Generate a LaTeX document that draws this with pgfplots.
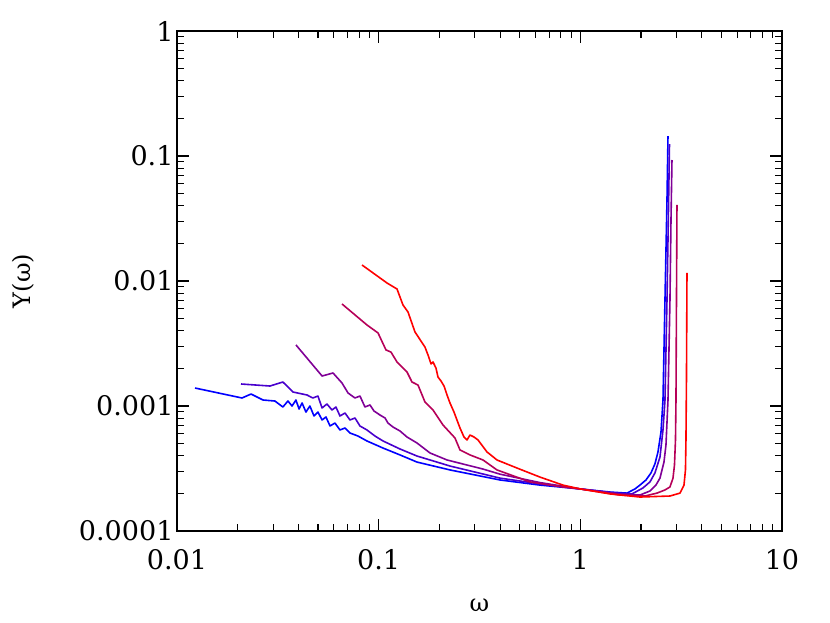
\documentclass[border=0pt]{standalone}
\usepackage{fontspec}
\setmainfont{DejaVu Serif}
\usepackage{pgfplots}
\pgfplotsset{compat=1.18}
\definecolor{c1}{RGB}{0,0,255}
\definecolor{c2}{RGB}{72,0,205}
\definecolor{c3}{RGB}{128,0,150}
\definecolor{c4}{RGB}{182,0,88}
\definecolor{c5}{RGB}{255,0,0}
\begin{document}
\begin{tikzpicture}
\useasboundingbox (0pt,0pt) rectangle (830pt,623pt);
\begin{axis}[
	at={(177pt,92pt)}, anchor=south west,
	scale only axis, width=605pt, height=500pt,
	xmode=log, ymode=log,
	xmin=0.01, xmax=10, ymin=1e-4, ymax=1,
	xtick={0.01,0.1,1,10},
	xticklabels={\textrm{0.01},\textrm{0.1},\textrm{1},\textrm{10}},
	ytick={0.0001,0.001,0.01,0.1,1},
	yticklabels={\textrm{0.0001},\textrm{0.001},\textrm{0.01},\textrm{0.1},\textrm{1}},
	minor xtick={0.02,0.03,0.04,0.05,0.06,0.07,0.08,0.09,0.2,0.3,0.4,0.5,0.6,0.7,0.8,0.9,2,3,4,5,6,7,8,9},
	minor ytick={2e-4,3e-4,4e-4,5e-4,6e-4,7e-4,8e-4,9e-4,2e-3,3e-3,4e-3,5e-3,6e-3,7e-3,8e-3,9e-3,0.02,0.03,0.04,0.05,0.06,0.07,0.08,0.09,0.2,0.3,0.4,0.5,0.6,0.7,0.8,0.9},
	tick align=inside, major tick length=12pt, minor tick length=7pt,
	tick style={line width=1.1pt, black},
	axis line style={line width=1.3pt},
	tick label style={font=\fontsize{27}{32}\selectfont},
	xticklabel style={yshift=-15pt},
	xlabel={ω}, ylabel={Y(ω)},
	label style={font=\fontsize{24}{28}\selectfont},
	xlabel style={at={(axis description cs:0.5,-0.148)}, anchor=center},
	ylabel style={at={(axis description cs:-0.2545,0.5)}, anchor=center},
	every axis plot/.append style={line width=1.6pt, line join=round, no marks},
	]
	\addplot [c1] coordinates {
		(0.01228,1.393e-3) (0.0210,1.159e-3) (0.0233,1.247e-3) (0.0267,1.117e-3)
		(0.0306,1.096e-3) (0.0335,9.82e-4) (0.0355,1.096e-3) (0.0372,1.0e-3)
		(0.0389,1.117e-3) (0.0403,9.46e-4) (0.0417,1.057e-3) (0.0436,8.95e-4)
		(0.0456,1.0e-3) (0.0478,8.32e-4) (0.0500,8.95e-4) (0.0524,7.73e-4)
		(0.0548,8.17e-4) (0.0574,6.92e-4) (0.0607,7.31e-4) (0.0643,6.43e-4)
		(0.0681,6.67e-4) (0.0721,6.08e-4) (0.0790,5.75e-4) (0.0875,5.25e-4)
		(0.1051,4.61e-4) (0.1276,4.06e-4) (0.1549,3.56e-4) (0.2258,3.08e-4)
		(0.3995,2.56e-4) (0.631,2.33e-4) (1.0,2.17e-4) (1.403,2.05e-4)
		(1.703,2.01e-4) (1.866,2.17e-4) (1.976,2.33e-4) (2.116,2.56e-4)
		(2.240,2.91e-4) (2.344,3.44e-4) (2.427,4.29e-4) (2.512,6.19e-4)
		(2.570,1.117e-3) (2.629,7.05e-3) (2.690,0.0445) (2.721,0.1445)
	};
	\addplot [c2] coordinates {
		(0.02077,1.500e-3) (0.0289,1.445e-3) (0.0335,1.556e-3) (0.0376,1.294e-3)
		(0.0441,1.225e-3) (0.0472,1.159e-3) (0.0500,1.202e-3) (0.0524,9.64e-4)
		(0.0554,1.038e-3) (0.0587,9.29e-4) (0.0614,9.82e-4) (0.0643,8.32e-4)
		(0.0681,8.79e-4) (0.0721,7.73e-4) (0.0763,8.02e-4) (0.0808,6.92e-4)
		(0.0875,6.43e-4) (0.0959,5.75e-4) (0.1051,5.25e-4) (0.1276,4.53e-4)
		(0.1549,3.98e-4) (0.2258,3.31e-4) (0.3995,2.65e-4) (0.631,2.38e-4)
		(1.0,2.17e-4) (1.486,2.01e-4) (1.804,1.98e-4) (2.045,2.21e-4)
		(2.215,2.47e-4) (2.344,2.91e-4) (2.483,3.91e-4) (2.570,6.43e-4)
		(2.629,1.117e-3) (2.690,7.05e-3) (2.736,0.0370) (2.768,0.1247)
	};
	\addplot [c3] coordinates {
		(0.0389,3.08e-3) (0.0524,1.738e-3) (0.0594,1.837e-3) (0.0658,1.528e-3)
		(0.0705,1.271e-3) (0.0763,1.159e-3) (0.0808,1.202e-3) (0.0855,9.82e-4)
		(0.0906,1.019e-3) (0.0948,9.12e-4) (0.1015,8.47e-4) (0.1075,8.02e-4)
		(0.1112,7.31e-4) (0.1178,6.79e-4) (0.1276,6.31e-4) (0.1382,5.65e-4)
		(0.1549,5.06e-4) (0.1797,4.21e-4) (0.2183,3.70e-4) (0.3292,3.13e-4)
		(0.3995,2.85e-4) (0.631,2.44e-4) (1.0,2.17e-4) (1.573,1.98e-4)
		(1.976,1.94e-4) (2.215,2.09e-4) (2.371,2.33e-4) (2.483,2.65e-4)
		(2.599,3.56e-4) (2.659,4.88e-4) (2.721,1.117e-3) (2.783,7.05e-3)
		(2.816,0.0308) (2.848,0.0929)
	};
	\addplot [c4] coordinates {
		(0.0658,6.55e-3) (0.0875,4.45e-3) (0.0993,3.84e-3) (0.1087,2.81e-3)
		(0.1151,2.70e-3) (0.1233,2.25e-3) (0.1382,1.871e-3) (0.1463,1.556e-3)
		(0.1567,1.472e-3) (0.1697,1.076e-3) (0.1860,9.29e-4) (0.2084,7.05e-4)
		(0.2390,5.55e-4) (0.2531,4.45e-4) (0.2837,4.06e-4) (0.3292,3.70e-4)
		(0.3862,3.08e-4) (0.5628,2.47e-4) (0.820,2.25e-4) (1.0,2.17e-4)
		(1.573,1.94e-4) (2.092,1.905e-4) (2.399,2.01e-4) (2.629,2.13e-4)
		(2.783,2.25e-4) (2.881,2.65e-4) (2.930,3.37e-4) (2.964,5.35e-4)
		(2.981,1.117e-3) (2.998,7.05e-3) (3.015,0.0406)
	};
	\addplot [c5] coordinates {
		(0.0827,0.01343) (0.1100,9.64e-3) (0.1233,8.63e-3) (0.1320,6.43e-3)
		(0.1398,5.65e-3) (0.1514,3.91e-3) (0.1697,2.96e-3) (0.1757,2.56e-3)
		(0.1818,2.17e-3) (0.1860,2.25e-3) (0.1925,2.01e-3) (0.1969,1.706e-3)
		(0.2038,1.585e-3) (0.2109,1.445e-3) (0.2183,1.225e-3) (0.2258,1.057e-3)
		(0.2363,8.95e-4) (0.2445,7.73e-4) (0.2531,6.67e-4) (0.2649,5.65e-4)
		(0.2742,5.35e-4) (0.2837,5.86e-4) (0.2970,5.65e-4) (0.3108,5.35e-4)
		(0.3446,4.29e-4) (0.3862,3.70e-4) (0.4852,3.19e-4) (0.631,2.70e-4)
		(0.820,2.33e-4) (1.0,2.17e-4) (1.403,1.98e-4) (1.976,1.87e-4)
		(2.783,1.905e-4) (3.120,2.01e-4) (3.266,2.33e-4) (3.322,3.08e-4)
		(3.341,5.35e-4) (3.360,1.614e-3) (3.380,0.01159)
	};
\end{axis}
\end{tikzpicture}
\end{document}
